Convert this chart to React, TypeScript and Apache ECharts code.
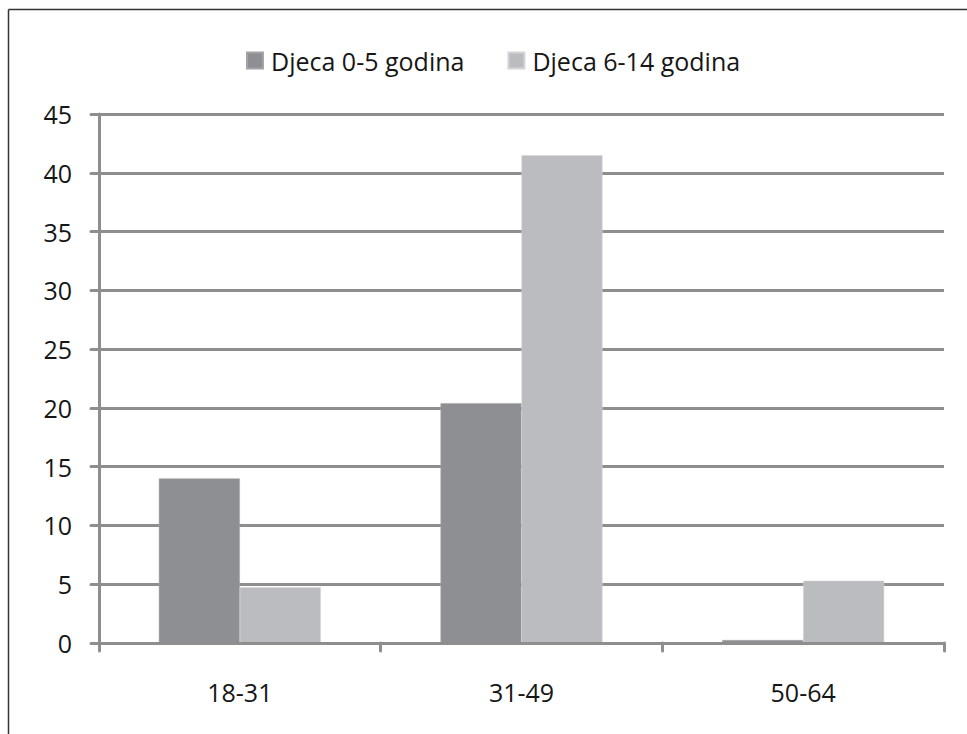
import React, { useEffect, useRef } from "react";
import * as echarts from "echarts";

const categories = ["18-31", "31-49", "50-64"];
const seriesNames = ["Djeca 0-5 godina", "Djeca 6-14 godina"];
const young = [14, 20.4, 0.25];
const older = [4.75, 41.5, 5.3];
const yMin = 0;
const yMax = 45;
const yStep = 5;

const FONT = "'Open Sans', 'Noto Sans', sans-serif";
const GRID_COLOR = "#8e8e8e";
const TEXT_COLOR = "#161616";

export default function App() {
  const ref = useRef<HTMLDivElement>(null);

  useEffect(() => {
    if (!ref.current) return;
    const chart = echarts.init(ref.current, undefined, { renderer: "svg" });
    chart.setOption({
      animation: false,
      backgroundColor: "#ffffff",
      textStyle: { fontFamily: FONT },
      legend: {
        data: seriesNames,
        left: 241,
        top: 43,
        itemWidth: 16,
        itemHeight: 16,
        itemGap: 43,
        icon: "rect",
        textStyle: {
          fontFamily: FONT,
          fontSize: 25,
          color: TEXT_COLOR,
          lineHeight: 25,
          padding: [0, 0, 0, 3],
        },
      },
      grid: {
        left: 99,
        top: 114,
        right: 23,
        bottom: 91,
        outerBoundsMode: "none",
        containLabel: false,
      },
      xAxis: {
        type: "category",
        data: categories,
        z: 5,
        axisLine: { show: true, lineStyle: { color: GRID_COLOR, width: 3, cap: "round" } },
        axisTick: { show: true, length: 8, lineStyle: { color: GRID_COLOR, width: 3, cap: "round" } },
        axisLabel: {
          fontFamily: FONT,
          fontSize: 25,
          color: TEXT_COLOR,
          margin: 36,
        },
        splitLine: { show: false },
      },
      yAxis: {
        type: "value",
        min: yMin,
        max: yMax,
        interval: yStep,
        axisLine: { show: true, lineStyle: { color: GRID_COLOR, width: 3, cap: "round" } },
        axisTick: { show: true, length: 8, lineStyle: { color: GRID_COLOR, width: 3, cap: "round" } },
        axisLabel: {
          fontFamily: FONT,
          fontSize: 25,
          color: TEXT_COLOR,
          margin: 27,
        },
        splitLine: { show: true, lineStyle: { color: GRID_COLOR, width: 3 } },
      },
      series: [
        {
          name: seriesNames[0],
          type: "bar",
          data: young,
          barGap: "0%",
          barCategoryGap: "42.5%",
          itemStyle: { color: "#8e8f93", borderColor: "#a3a4a7", borderWidth: 0.5 },
        },
        {
          name: seriesNames[1],
          type: "bar",
          data: older,
          barGap: "0%",
          barCategoryGap: "42.5%",
          itemStyle: { color: "#bbbcc0", borderColor: "#d3d4d6", borderWidth: 0.5 },
        },
      ],
      graphic: [
        {
          type: "line",
          shape: { x1: 8.5, y1: 9.5, x2: 967, y2: 9.5 },
          style: { stroke: "#333333", lineWidth: 1.5 },
          silent: true,
        },
        {
          type: "line",
          shape: { x1: 8.5, y1: 9.5, x2: 8.5, y2: 734 },
          style: { stroke: "#333333", lineWidth: 1.5 },
          silent: true,
        },
      ],
    });
    return () => chart.dispose();
  }, []);

  return (
    <div
      ref={ref}
      style={{ position: "fixed", left: 0, top: 0, width: 967, height: 734 }}
    />
  );
}
